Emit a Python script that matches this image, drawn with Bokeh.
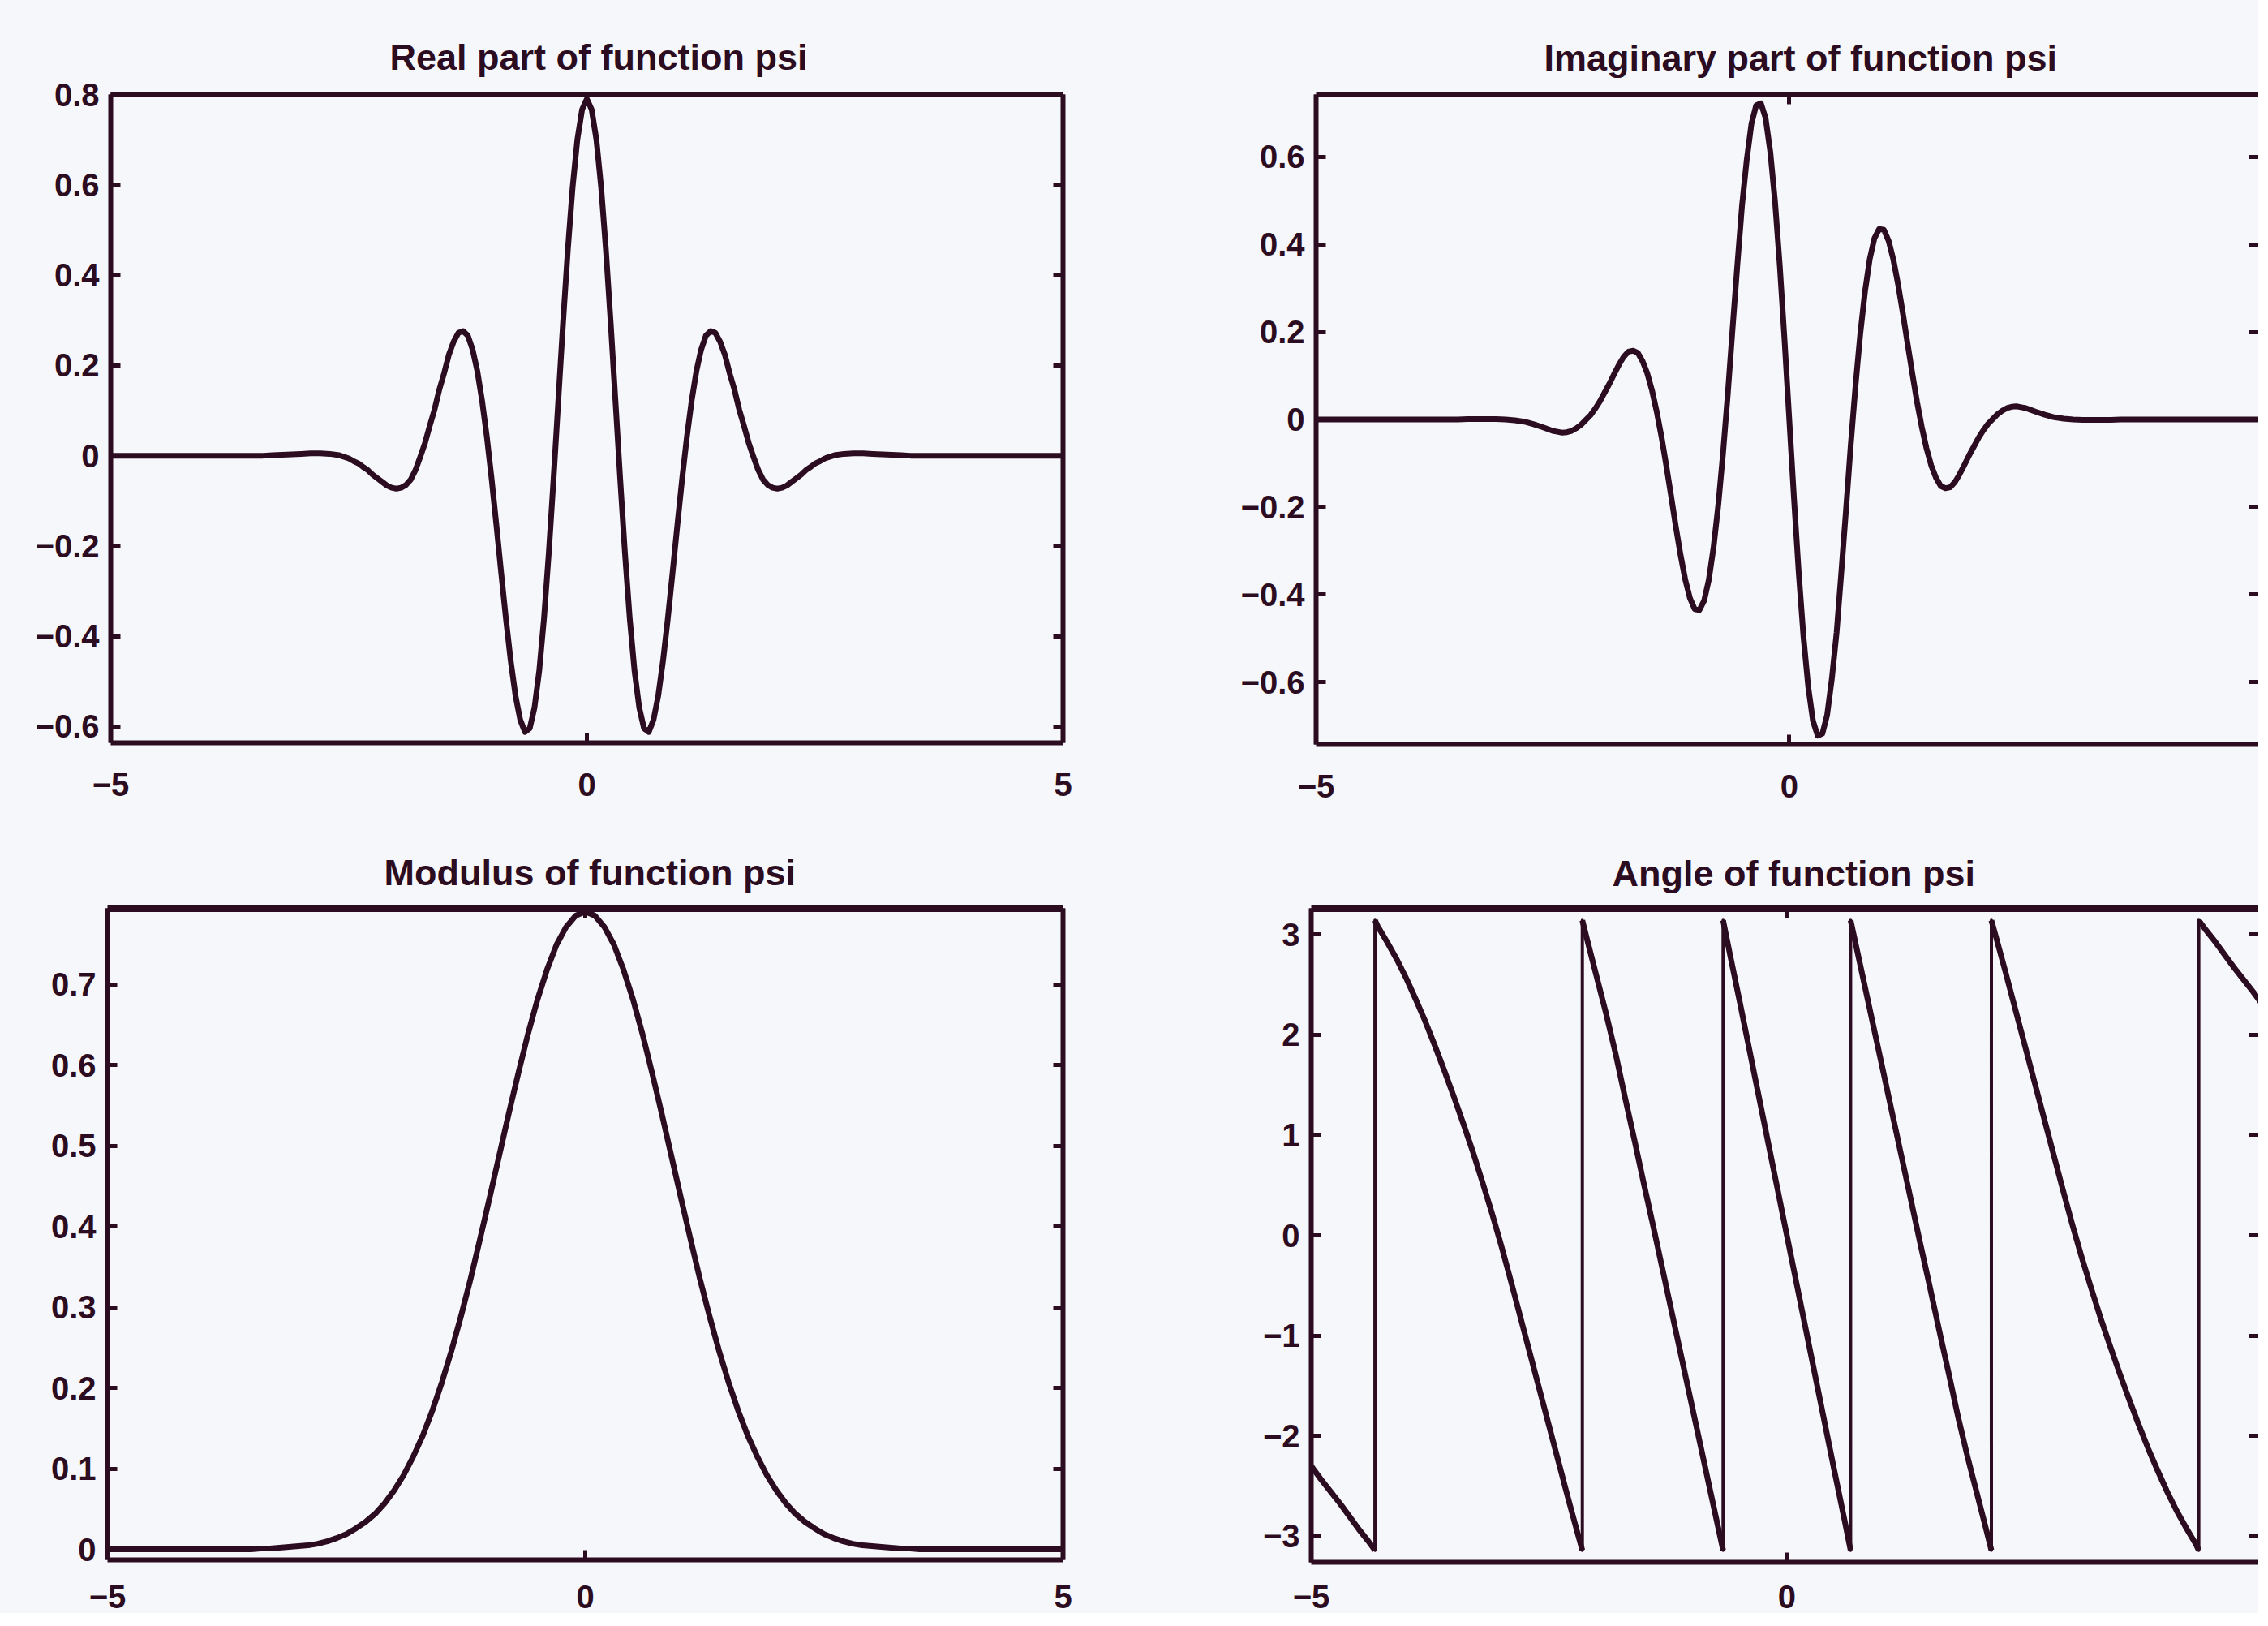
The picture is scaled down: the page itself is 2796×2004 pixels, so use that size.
from bokeh.plotting import figure
from bokeh.layouts import column, row
from bokeh.models import LinearAxis, FixedTicker, Range1d
from bokeh.embed import file_html
from bokeh.resources import INLINE

# ---------------- data ----------------
# abscissa for the real / imaginary parts (denser where the wavelet oscillates)
x_wave = [-5.0, -4.9, -4.8, -4.7, -4.6, -4.5, -4.4, -4.3, -4.2, -4.1,
          -4.0, -3.9, -3.8, -3.7, -3.6, -3.5, -3.4, -3.3, -3.2, -3.1,
          -3.0, -2.9, -2.8, -2.7, -2.6,
          -2.5, -2.45, -2.4, -2.35, -2.3, -2.25, -2.2, -2.15, -2.1, -2.05,
          -2.0, -1.95, -1.9, -1.85, -1.8, -1.75, -1.7, -1.65, -1.6, -1.55,
          -1.5, -1.45, -1.4, -1.35, -1.3, -1.25, -1.2, -1.15, -1.1, -1.05,
          -1.0, -0.95, -0.9, -0.85, -0.8, -0.75, -0.7, -0.65, -0.6, -0.55,
          -0.5, -0.45, -0.4, -0.35, -0.3, -0.25, -0.2, -0.15, -0.1, -0.05,
          0.0,
          0.05, 0.1, 0.15, 0.2, 0.25, 0.3, 0.35, 0.4, 0.45, 0.5,
          0.55, 0.6, 0.65, 0.7, 0.75, 0.8, 0.85, 0.9, 0.95, 1.0,
          1.05, 1.1, 1.15, 1.2, 1.25, 1.3, 1.35, 1.4, 1.45, 1.5,
          1.55, 1.6, 1.65, 1.7, 1.75, 1.8, 1.85, 1.9, 1.95, 2.0,
          2.05, 2.1, 2.15, 2.2, 2.25, 2.3, 2.35, 2.4, 2.45, 2.5,
          2.6, 2.7, 2.8, 2.9, 3.0, 3.1, 3.2, 3.3, 3.4, 3.5,
          3.6, 3.7, 3.8, 3.9, 4.0, 4.1, 4.2, 4.3, 4.4, 4.5,
          4.6, 4.7, 4.8, 4.9, 5.0]

real_part = [0.0, 0.0, 0.0, 0.0, 0.0, 0.0, 0.0, 0.0, 0.0, 0.0,
             0.0, 0.0, 0.0, 0.0, 0.0, 0.0, 0.0, 0.001, 0.002, 0.003,
             0.004, 0.005, 0.005, 0.004, 0.001,
             -0.006, -0.012, -0.017, -0.025, -0.032, -0.042, -0.050, -0.058, -0.066, -0.071,
             -0.073, -0.071, -0.065, -0.053, -0.032, -0.003, 0.028, 0.066, 0.102, 0.146,
             0.182, 0.223, 0.252, 0.272, 0.276, 0.266, 0.235, 0.187, 0.121, 0.041,
             -0.052, -0.154, -0.259, -0.361, -0.454, -0.531, -0.585, -0.612, -0.604, -0.558,
             -0.476, -0.360, -0.216, -0.052, 0.122, 0.295, 0.456, 0.594, 0.700, 0.767,
             0.790,
             0.767, 0.700, 0.594, 0.456, 0.295, 0.122, -0.052, -0.216, -0.360, -0.476,
             -0.558, -0.604, -0.612, -0.585, -0.531, -0.454, -0.361, -0.259, -0.154, -0.052,
             0.041, 0.121, 0.187, 0.235, 0.266, 0.276, 0.272, 0.252, 0.223, 0.182,
             0.146, 0.102, 0.066, 0.028, -0.003, -0.032, -0.053, -0.065, -0.071, -0.073,
             -0.071, -0.066, -0.058, -0.050, -0.042, -0.032, -0.025, -0.017, -0.012, -0.006,
             0.001, 0.004, 0.005, 0.005, 0.004, 0.003, 0.002, 0.001, 0.0, 0.0,
             0.0, 0.0, 0.0, 0.0, 0.0, 0.0, 0.0, 0.0, 0.0, 0.0,
             0.0, 0.0, 0.0, 0.0, 0.0]

imag_part = [0.0, 0.0, 0.0, 0.0, 0.0, 0.0, 0.0, 0.0, 0.0, 0.0,
             0.0, 0.0, 0.0, 0.0, 0.0, 0.0, 0.001, 0.001, 0.001, 0.001,
             0.0, -0.002, -0.005, -0.011, -0.018,
             -0.026, -0.028, -0.030, -0.029, -0.026, -0.020, -0.012, -0.001, 0.010, 0.025,
             0.042, 0.062, 0.082, 0.104, 0.125, 0.143, 0.155, 0.157, 0.152, 0.133,
             0.105, 0.066, 0.017, -0.040, -0.105, -0.173, -0.243, -0.308, -0.365, -0.408,
             -0.433, -0.435, -0.414, -0.366, -0.292, -0.195, -0.077, 0.057, 0.205, 0.349,
             0.487, 0.592, 0.675, 0.717, 0.722, 0.688, 0.610, 0.496, 0.350, 0.181,
             0.0,
             -0.181, -0.350, -0.496, -0.610, -0.688, -0.722, -0.717, -0.675, -0.592, -0.487,
             -0.349, -0.205, -0.057, 0.077, 0.195, 0.292, 0.366, 0.414, 0.435, 0.433,
             0.408, 0.365, 0.308, 0.243, 0.173, 0.105, 0.040, -0.017, -0.066, -0.105,
             -0.133, -0.152, -0.157, -0.155, -0.143, -0.125, -0.104, -0.082, -0.062, -0.042,
             -0.025, -0.010, 0.001, 0.012, 0.020, 0.026, 0.029, 0.030, 0.028, 0.026,
             0.018, 0.011, 0.005, 0.002, 0.0, -0.001, -0.001, -0.001, -0.001, 0.0,
             0.0, 0.0, 0.0, 0.0, 0.0, 0.0, 0.0, 0.0, 0.0, 0.0,
             0.0, 0.0, 0.0, 0.0, 0.0]

x_mod = [-5.0, -4.9, -4.8, -4.7, -4.6, -4.5, -4.4, -4.3, -4.2, -4.1,
         -4.0, -3.9, -3.8, -3.7, -3.6, -3.5, -3.4, -3.3, -3.2, -3.1,
         -3.0, -2.9, -2.8, -2.7, -2.6, -2.5, -2.4, -2.3, -2.2, -2.1,
         -2.0, -1.9, -1.8, -1.7, -1.6, -1.5, -1.4, -1.3, -1.2, -1.1,
         -1.0, -0.9, -0.8, -0.7, -0.6, -0.5, -0.4, -0.3, -0.2, -0.1,
         0.0,
         0.1, 0.2, 0.3, 0.4, 0.5, 0.6, 0.7, 0.8, 0.9, 1.0,
         1.1, 1.2, 1.3, 1.4, 1.5, 1.6, 1.7, 1.8, 1.9, 2.0,
         2.1, 2.2, 2.3, 2.4, 2.5, 2.6, 2.7, 2.8, 2.9, 3.0,
         3.1, 3.2, 3.3, 3.4, 3.5, 3.6, 3.7, 3.8, 3.9, 4.0,
         4.1, 4.2, 4.3, 4.4, 4.5, 4.6, 4.7, 4.8, 4.9, 5.0]

modulus = [0.0, 0.0, 0.0, 0.0, 0.0, 0.0, 0.0, 0.0, 0.0, 0.0,
           0.0, 0.0, 0.0, 0.0, 0.0, 0.0, 0.001, 0.001, 0.002, 0.003,
           0.004, 0.005, 0.007, 0.010, 0.014, 0.019, 0.026, 0.034, 0.044, 0.057,
           0.073, 0.092, 0.115, 0.141, 0.172, 0.207, 0.246, 0.289, 0.335, 0.385,
           0.436, 0.488, 0.540, 0.590, 0.638, 0.681, 0.718, 0.749, 0.771, 0.785,
           0.790,
           0.785, 0.771, 0.749, 0.718, 0.681, 0.638, 0.590, 0.540, 0.488, 0.436,
           0.385, 0.335, 0.289, 0.246, 0.207, 0.172, 0.141, 0.115, 0.092, 0.073,
           0.057, 0.044, 0.034, 0.026, 0.019, 0.014, 0.010, 0.007, 0.005, 0.004,
           0.003, 0.002, 0.001, 0.001, 0.0, 0.0, 0.0, 0.0, 0.0, 0.0,
           0.0, 0.0, 0.0, 0.0, 0.0, 0.0, 0.0, 0.0, 0.0, 0.0]

angle_x = [-5.0, -4.9, -4.8, -4.7, -4.6, -4.5, -4.4, -4.33, -4.33, -4.3,
           -4.2, -4.1, -4.0, -3.9, -3.8, -3.7, -3.6, -3.5, -3.4, -3.3,
           -3.2, -3.1, -3.0, -2.9, -2.8, -2.7, -2.6, -2.5, -2.4, -2.3,
           -2.2, -2.15, -2.15, -2.1, -2.0, -1.9, -1.8, -1.7, -1.6, -1.5,
           -1.4, -1.3, -1.2, -1.1, -1.0, -0.9, -0.8, -0.7, -0.67, -0.67,
           -0.6, -0.5, -0.4, -0.3, -0.2, -0.1, 0.0,
           0.1, 0.2, 0.3, 0.4, 0.5, 0.6, 0.67, 0.67, 0.7, 0.8,
           0.9, 1.0, 1.1, 1.2, 1.3, 1.4, 1.5, 1.6, 1.7, 1.8,
           1.9, 2.0, 2.1, 2.15, 2.15, 2.2, 2.3, 2.4, 2.5, 2.6,
           2.7, 2.8, 2.9, 3.0, 3.1, 3.2, 3.3, 3.4, 3.5, 3.6,
           3.7, 3.8, 3.9, 4.0, 4.1, 4.2, 4.3, 4.33, 4.33, 4.4,
           4.5, 4.6, 4.7, 4.8, 4.9, 5.0]
angle_y = [-2.30, -2.43, -2.55, -2.67, -2.80, -2.93, -3.05, -3.14, 3.14, 3.08,
           2.92, 2.75, 2.56, 2.35, 2.13, 1.89, 1.64, 1.38, 1.11, 0.83,
           0.53, 0.22, -0.11, -0.46, -0.82, -1.18, -1.54, -1.90, -2.26, -2.62,
           -2.97, -3.14, 3.14, 2.95, 2.58, 2.21, 1.81, 1.37, 0.94, 0.50,
           0.07, -0.37, -0.81, -1.25, -1.69, -2.13, -2.57, -3.01, -3.14, 3.14,
           2.81, 2.35, 1.88, 1.41, 0.94, 0.47, 0.0,
           -0.47, -0.94, -1.41, -1.88, -2.35, -2.81, -3.14, 3.14, 3.01, 2.57,
           2.13, 1.69, 1.25, 0.81, 0.37, -0.07, -0.50, -0.94, -1.37, -1.81,
           -2.21, -2.58, -2.95, -3.14, 3.14, 2.97, 2.62, 2.26, 1.90, 1.54,
           1.18, 0.82, 0.46, 0.11, -0.22, -0.53, -0.83, -1.11, -1.38, -1.64,
           -1.89, -2.13, -2.35, -2.56, -2.75, -2.92, -3.08, -3.14, 3.14, 3.05,
           2.93, 2.80, 2.67, 2.55, 2.43, 2.30]

titles = ["Real part of function psi", "Imaginary part of function psi",
          "Modulus of function psi", "Angle of function psi"]

x_ticks = [-5, 0, 5]
x_tick_labels = ["\u22125", "0", "5"]
real_ticks = [-0.6, -0.4, -0.2, 0, 0.2, 0.4, 0.6, 0.8]
real_tick_labels = ["\u22120.6", "\u22120.4", "\u22120.2", "0", "0.2", "0.4", "0.6", "0.8"]
imag_ticks = [-0.6, -0.4, -0.2, 0, 0.2, 0.4, 0.6]
imag_tick_labels = ["\u22120.6", "\u22120.4", "\u22120.2", "0", "0.2", "0.4", "0.6"]
mod_ticks = [0, 0.1, 0.2, 0.3, 0.4, 0.5, 0.6, 0.7]
mod_tick_labels = ["0", "0.1", "0.2", "0.3", "0.4", "0.5", "0.6", "0.7"]
ang_ticks = [-3, -2, -1, 0, 1, 2, 3]
ang_tick_labels = ["\u22123", "\u22122", "\u22121", "0", "1", "2", "3"]

# ---------------- style ----------------
BG = "#f6f7fb"
INK = "#2c0c20"
FONT = "Liberation Sans"
TITLE_PX = "45px"
TICK_PX = "40px"
CURVE_W = 7
FRAME_W = 6


def add_axis(p, side, ticks, labels, show, line_w=FRAME_W, standoff=14, line=True):
    ax = LinearAxis(ticker=FixedTicker(ticks=ticks, minor_ticks=[]))
    ax.axis_line_color = INK if line else None
    ax.axis_line_width = line_w
    ax.major_tick_in = 12
    ax.major_tick_out = 0
    ax.major_tick_line_color = INK
    ax.major_tick_line_width = 5
    ax.minor_tick_line_color = None
    if show:
        ax.major_label_overrides = dict(zip(ticks, labels))
        ax.major_label_text_font = FONT
        ax.major_label_text_font_style = "bold"
        ax.major_label_text_font_size = TICK_PX
        ax.major_label_text_color = INK
        ax.major_label_standoff = standoff
    else:
        ax.major_label_overrides = {t: "" for t in ticks}
        ax.major_label_standoff = 0
        ax.major_label_text_font_size = "1px"
    p.add_layout(ax, side)
    return ax


def panel(title, xr, yr, yt, ytl, fw, fh, bl, br, bt, bb, cut_right, top_w,
          x_standoff, title_standoff, title_offset):
    p = figure(frame_width=fw, frame_height=fh,
               x_range=Range1d(*xr), y_range=Range1d(*yr),
               x_axis_type=None, y_axis_type=None,
               output_backend="svg", toolbar_location=None,
               min_border_left=bl, min_border_right=br,
               min_border_top=bt, min_border_bottom=bb,
               background_fill_color=BG, border_fill_color=BG,
               outline_line_color=None, title=title)
    p.title.align = "left"
    p.title.offset = title_offset
    p.title.text_font = FONT
    p.title.text_font_style = "bold"
    p.title.text_font_size = TITLE_PX
    p.title.text_color = INK
    p.title.standoff = title_standoff
    add_axis(p, "left", yt, ytl, True, standoff=14)
    add_axis(p, "below", x_ticks, x_tick_labels, True, standoff=x_standoff)
    add_axis(p, "above", x_ticks, x_tick_labels, False, line_w=top_w)
    # right edge: full frame for the left column, only tick marks where the
    # picture is cut off for the right column
    add_axis(p, "right", yt, ytl, False, line=not cut_right)
    return p


pa = panel(titles[0], (-5, 5), (-0.636, 0.8), real_ticks, real_tick_labels,
           1174, 799, 136, 90, 114, 113, False, FRAME_W, 37, 42, 344)
pa.line(x_wave, real_part, line_color=INK, line_width=CURVE_W, line_join="round")

pb = panel(titles[1], (-5, 4.96), (-0.742, 0.742), imag_ticks, imag_tick_labels,
           1162, 801, 222, 0, 116, 109, True, FRAME_W, 37, 40, 281)
pb.line(x_wave, imag_part, line_color=INK, line_width=CURVE_W, line_join="round")

pc = panel(titles[2], (-5, 5), (-0.013, 0.794), mod_ticks, mod_tick_labels,
           1178, 803, 132, 90, 88, 76, False, 9, 31, 37, 341)
pc.line(x_mod, modulus, line_color=INK, line_width=CURVE_W, line_join="round")

pd = panel(titles[3], (-5, 4.96), (-3.26, 3.26), ang_ticks, ang_tick_labels,
           1168, 806, 216, 0, 93, 73, True, 9, 28, 35, 371)
# thin vertical jumps, heavier descending strokes
pd.line(angle_x, angle_y, line_color=INK, line_width=4, line_join="round")
seg_x, seg_y = [[angle_x[0]]], [[angle_y[0]]]
for i in range(1, len(angle_x)):
    if angle_x[i] == angle_x[i - 1]:
        seg_x.append([angle_x[i]])
        seg_y.append([angle_y[i]])
    else:
        seg_x[-1].append(angle_x[i])
        seg_y[-1].append(angle_y[i])
pd.multi_line(seg_x, seg_y, line_color=INK, line_width=CURVE_W, line_join="round")

layout = column(row(pa, pb), row(pc, pd))
# the lower tick labels sit at the very bottom of the page: clip the layout
# to the window so that no scrollbar appears
layout.styles = {"background-color": BG, "overflow": "hidden",
                 "height": "1988px", "max-height": "1988px"}

open("out.html", "w").write(file_html(layout, INLINE))
